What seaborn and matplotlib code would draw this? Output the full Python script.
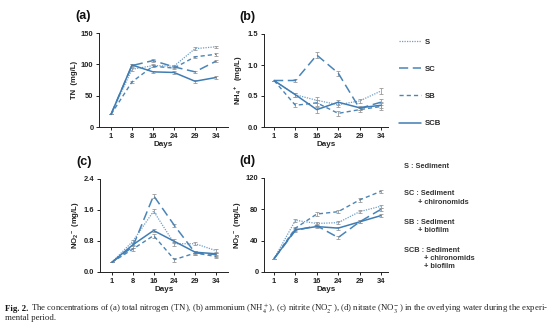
import matplotlib
matplotlib.use("Agg")
import matplotlib.pyplot as plt
import seaborn as sns
import pandas as pd
import numpy as np
from matplotlib.lines import Line2D

sns.set_theme(style="ticks")
plt.rcParams["font.family"] = ["Liberation Sans", "DejaVu Sans"]
plt.rcParams["mathtext.fontset"] = "custom"
plt.rcParams["mathtext.rm"] = "Liberation Sans:bold"
plt.rcParams["mathtext.it"] = "Liberation Sans:bold"
plt.rcParams["mathtext.bf"] = "Liberation Sans:bold"

# sampling days
days = ["1", "8", "16", "24", "29", "34"]
treatments = ["S", "SC", "SB", "SCB"]

# (a) total nitrogen, mg/L
tn_S = [20, 92, 98, 97, 125, 128]
tn_SC = [20, 98, 106, 96, 88, 105]
tn_SB = [20, 72, 97, 94, 112, 116]
tn_SCB = [20, 99, 88, 87, 73, 79]

# (b) ammonium, mg/L
nh4_S = [0.75, 0.52, 0.43, 0.36, 0.42, 0.58]
nh4_SC = [0.75, 0.75, 1.16, 0.87, 0.30, 0.40]
nh4_SB = [0.75, 0.35, 0.39, 0.22, 0.28, 0.33]
nh4_SCB = [0.75, 0.52, 0.28, 0.40, 0.31, 0.35]

# (c) nitrite, mg/L
no2_S = [0.25, 0.79, 1.57, 0.73, 0.73, 0.55]
no2_SC = [0.25, 0.65, 1.97, 1.20, 0.49, 0.45]
no2_SB = [0.25, 0.59, 0.94, 0.32, 0.49, 0.40]
no2_SCB = [0.25, 0.70, 1.07, 0.79, 0.51, 0.47]

# (d) nitrate, mg/L
no3_S = [17, 66, 62, 63, 77, 84]
no3_SC = [17, 53, 59, 44, 64, 80]
no3_SB = [17, 56, 74, 77, 92, 103]
no3_SCB = [17, 54, 58, 56, 64, 72]

# standard errors
tn_err = [0, 2, 2, 2, 2, 2]
nh4_err = [0, 0.03, 0.05, 0.04, 0.03, 0.05]
no2_err = [0, 0.04, 0.05, 0.05, 0.04, 0.05]
no3_err = [0, 2, 2, 2, 2, 2]

panels = [
    ("(a)", "TN  (mg/L)", [tn_S, tn_SC, tn_SB, tn_SCB], tn_err, (0, 150), [0, 50, 100, 150], ["0", "50", "100", "150"]),
    ("(b)", "NH$_4$$^+$  (mg/L)", [nh4_S, nh4_SC, nh4_SB, nh4_SCB], nh4_err, (0, 1.5), [0, 0.5, 1.0, 1.5], ["0.0", "0.5", "1.0", "1.5"]),
    ("(c)", "NO$_2$$^-$ (mg/L)", [no2_S, no2_SC, no2_SB, no2_SCB], no2_err, (0, 2.4), [0, 0.8, 1.6, 2.4], ["0.0", "0.8", "1.6", "2.4"]),
    ("(d)", "NO$_3$$^-$ (mg/L)", [no3_S, no3_SC, no3_SB, no3_SCB], no3_err, (0, 120), [0, 40, 80, 120], ["0", "40", "80", "120"]),
]

palette = {"S": "#6f9fc8", "SC": "#4a85b8", "SB": "#4a85b8", "SCB": "#3f7db4"}
dashes = {"S": (1, 1), "SC": (6, 3), "SB": (3, 2.2), "SCB": ""}
widths = {"S": 0.9, "SC": 1.1, "SB": 1.0, "SCB": 1.1}

W, H = 554, 327
fig = plt.figure(figsize=(W / 100, H / 100), dpi=100)

def fbox(x0, y0, x1, y1):
    return [x0 / W, 1 - y1 / H, (x1 - x0) / W, (y1 - y0) / H]

boxes = [fbox(99, 33, 228, 127), fbox(264, 34, 388, 127),
         fbox(100, 179, 228, 272), fbox(264, 178, 388, 272)]
xlims = [(-0.57, 5.57), (-0.47, 5.33), (-0.57, 5.57), (-0.47, 5.33)]

tick_font = dict(fontsize=5.4, fontweight="bold", color="#222222")
axes = []
for (lab, ylab, series, err, ylim, yt, ytl), box, xl in zip(panels, boxes, xlims):
    ax = fig.add_axes(box)
    axes.append(ax)
    rows = []
    for name, vals in zip(treatments, series):
        for i, v in enumerate(vals):
            rows.append({"pos": i, "value": v, "series": name})
    df = pd.DataFrame(rows)
    for name, vals in zip(treatments, series):
        ax.errorbar(range(len(days)), vals, yerr=err, fmt="none",
                    ecolor="#9a9a9a", elinewidth=0.6, capsize=1.5, capthick=0.6, zorder=1)
    sns.lineplot(data=df, x="pos", y="value", hue="series", style="series",
                 hue_order=treatments, style_order=treatments,
                 palette=palette, dashes=dashes, ax=ax, legend=False, zorder=3)
    for line, name in zip(ax.get_lines()[-4:], treatments):
        line.set_linewidth(widths[name])
    ax.set_xlim(*xl)
    ax.set_ylim(*ylim)
    ax.set_xticks(range(len(days)))
    ax.set_xticklabels(days, **tick_font)
    ax.set_yticks(yt)
    ax.set_yticklabels(ytl, **tick_font)
    ax.set_xlabel("Days", fontsize=5.8, fontweight="bold", labelpad=1, color="#222222")
    ax.set_ylabel(ylab, fontsize=5.6, fontweight="bold", labelpad=2, color="#222222")
    ax.tick_params(axis="both", length=2.5, width=0.7, pad=1.5, colors="#222222")
    for s in ["left", "bottom"]:
        ax.spines[s].set_linewidth(0.7)
        ax.spines[s].set_color("#222222")
    sns.despine(ax=ax)
    ax.text(-0.065, 1.12, lab, transform=ax.transAxes, fontsize=9, fontweight="bold",
            ha="right", va="bottom", color="#111111")

# key of line styles
handles = [Line2D([0], [0], color=palette[n], dashes=dashes[n] if dashes[n] else (None, None),
                  linestyle="-", lw=widths[n]) for n in treatments]
fig.legend(handles, treatments, loc="upper left", bbox_to_anchor=(396 / W, 1 - 35 / H),
           frameon=False, handlelength=2.8, handletextpad=0.5, labelspacing=2.55,
           prop=dict(size=5.6, weight="bold"), borderaxespad=0)

defs = [(167, "S : Sediment"),
        (193, "SC : Sediment"), (202, "       + chironomids"),
        (222, "SB : Sediment"), (231, "       + biofilm"),
        (250, "SCB : Sediment"), (258, "          + chironomids"), (266, "          + biofilm")]
for y, t in defs:
    fig.text(404 / W, 1 - y / H, t, fontsize=5.3, fontweight="bold", va="center",
             color="#333333")

serif = ["Liberation Serif", "DejaVu Serif"]
cap_size = 6.3
fig.text(5 / W, 1 - 309 / H, "Fig. 2.", fontsize=cap_size, fontweight="bold",
         family=serif, va="center", color="#111111")
fig.text(31 / W, 1 - 309 / H,
         "The concentrations of (a) total nitrogen (TN), (b) ammonium (NH$_4^+$), "
         "(c) nitrite (NO$_2^-$), (d) nitrate (NO$_3^-$) in the overlying water during the experi-",
         fontsize=cap_size, family=serif, va="center", color="#222222",
         math_fontfamily="stix")
fig.text(5 / W, 1 - 318.5 / H, "mental period.", fontsize=cap_size, family=serif,
         va="center", color="#222222")

fig.savefig("out.png", dpi=100, facecolor="white")
